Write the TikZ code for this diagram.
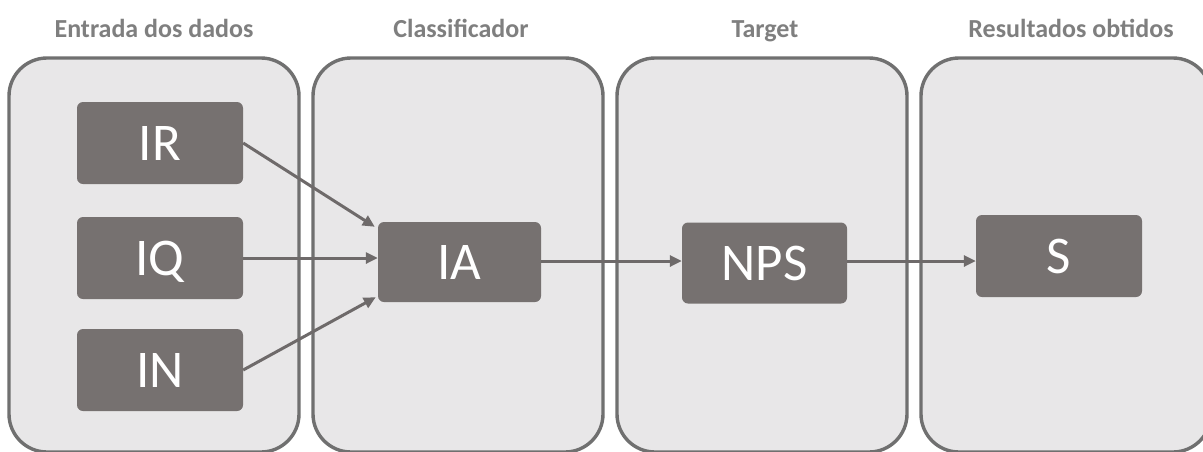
\documentclass[tikz,border=0pt]{standalone}
\usepackage{fontspec}
\setmainfont{Carlito}
\usetikzlibrary{arrows.meta,calc}
\definecolor{panelfill}{HTML}{E8E7E8}
\definecolor{paneldraw}{HTML}{707070}
\definecolor{boxfill}{HTML}{767170}
\definecolor{titlegray}{HTML}{7F7F7F}
\definecolor{arrowgray}{HTML}{6E6A6A}
\tikzset{
  panel/.style={draw=paneldraw, fill=panelfill, line width=3.4pt, rounded corners=38pt},
  databox/.style={fill=boxfill, rounded corners=6pt, minimum width=166pt, minimum height=82pt,
    inner sep=0pt, text=white, font=\fontsize{53}{53}\selectfont, text height=34pt, text depth=0pt},
  title/.style={text=titlegray, font=\fontsize{26}{26}\selectfont\bfseries, anchor=base},
  arr/.style={draw=arrowgray, line width=3pt, -{Triangle[length=12pt,width=11pt]}}
}
\begin{document}
\begin{tikzpicture}[x=1pt,y=-1pt]
\useasboundingbox (0,0) rectangle (1203,451);
\fill[white] (0,0) rectangle (1203,451);
\begin{scope}
\clip (0,0) rectangle (1203,451);
\draw[panel] (9,58) rectangle (299,452);
\draw[panel] (313,58) rectangle (603,452);
\draw[panel] (617,58) rectangle (907,452);
\draw[panel] (921,58) rectangle (1211,452);
\end{scope}
\node[title] (t1) at (154,37) {Entrada dos dados};
\node[title] (t2) at (461,37) {Classificador};
\node[title] (t3) at (765,37) {Target};
\node[title] (t4) at (1071,37) {Resultados obtidos};
\node[databox] (IR) at (160,143) {IR};
\node[databox] (IQ) at (160,258) {IQ};
\node[databox] (IN) at (160,370) {IN};
\node[databox, minimum width=163pt, minimum height=80pt] (IA) at (459.5,262) {IA};
\node[databox, minimum width=165pt, minimum height=81pt] (NPS) at (764.5,263) {NPS};
\node[databox] (S) at (1059,256) {S};
\draw[arr] (IR.east) -- ($(IA.north west)+(-3,5)$);
\draw[arr] (IQ.east) -- (IA.west |- IQ.east);
\draw[arr] (IN.east) -- ($(IA.south west)+(-2,-5)$);
\draw[arr] (IA.east |- 0,261) -- (NPS.west |- 0,261);
\draw[arr] (NPS.east |- 0,261) -- (S.west |- 0,261);
\end{tikzpicture}
\end{document}
